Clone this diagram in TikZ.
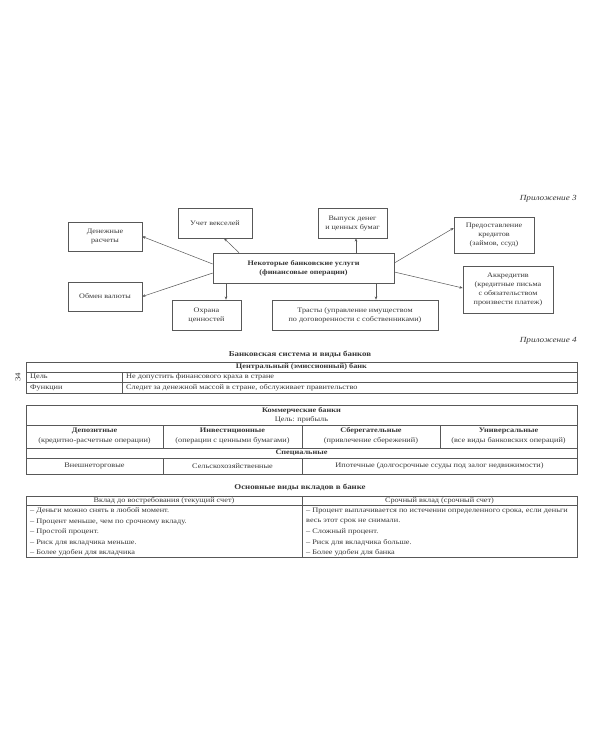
\documentclass[tikz,border=0pt]{standalone}
\usepackage{fontspec}
\setmainfont[FakeStretch=1.18]{Liberation Serif}
\usetikzlibrary{arrows.meta}
\definecolor{ink}{HTML}{383838}
\definecolor{rule}{HTML}{585858}
\tikzset{
  box/.style={draw=rule, line width=0.6pt, align=center, inner sep=1pt, text=ink, font=\fontsize{6.9}{9}\selectfont},
  arr/.style={draw=rule, line width=0.5pt, -{Stealth[length=3.2pt,width=2.6pt]}},
  tline/.style={draw=rule, line width=0.5pt},
  ttext/.style={text=ink, inner sep=0pt, font=\fontsize{7}{9}\selectfont},
  tbold/.style={ttext, font=\fontsize{7}{9}\selectfont\bfseries},
  ttitle/.style={text=ink, inner sep=0pt, font=\fontsize{7.5}{9}\selectfont\bfseries},
  appx/.style={text=ink, inner sep=0pt, anchor=east, font=\fontsize{7.8}{9}\selectfont\itshape}
}
\begin{document}
\begin{tikzpicture}[x=1pt,y=-1pt]
\useasboundingbox[fill=white] (0,0) rectangle (600,750);

\node[appx] (ap3) at (577,199) {Приложение 3};

% boxes
\node[box, minimum width=74pt, minimum height=29pt] (den) at (105,236.5) {Денежные\\расчеты};
\node[box, minimum width=74pt, minimum height=30pt] (uch) at (215,223) {Учет векселей};
\node[box, minimum width=74pt, minimum height=29pt] (obm) at (105,296.5) {Обмен валюты};
\node[box, minimum width=181pt, minimum height=30pt, font=\fontsize{6.9}{9}\selectfont\bfseries] (cen) at (303.5,268) {Некоторые банковские услуги\\(финансовые операции)};
\node[box, minimum width=69pt, minimum height=30pt] (ohr) at (206.5,315) {Охрана\\ценностей};
\node[box, minimum width=166pt, minimum height=30pt] (tra) at (355,315) {Трасты (управление имуществом\\по договоренности с собственниками)};
\node[box, minimum width=69pt, minimum height=30pt] (vyp) at (352.5,223) {Выпуск денег\\и ценных бумаг};
\node[box, minimum width=80pt, minimum height=36pt] (pre) at (494,235) {Предоставление\\кредитов\\(займов, ссуд)};
\node[box, minimum width=90pt, minimum height=47pt] (akk) at (508,289.5) {Аккредитив\\(кредитные письма\\с обязательством\\произвести платеж)};

% arrows
\draw[arr] ([yshift=4pt]cen.west) -- (den.east);
\draw[arr] ([yshift=-5pt]cen.west) -- (obm.east);
\draw[arr] ([xshift=-64.5pt]cen.north) -- ([xshift=9pt]uch.south);
\draw[arr] ([xshift=-77.5pt]cen.south) -- ([xshift=-77.5pt]cen.south |- ohr.north);
\draw[arr] ([xshift=52.5pt]cen.north) -- ([xshift=52.5pt]cen.north |- vyp.south);
\draw[arr] ([xshift=72.5pt]cen.south) -- ([xshift=72.5pt]cen.south |- tra.north);
\draw[arr] ([yshift=5pt]cen.east) -- ([yshift=7pt]pre.west);
\draw[arr] ([yshift=-4pt]cen.east) -- ([yshift=1.5pt]akk.west);

\node[appx] (ap4) at (577,341) {Приложение 4};
\node[text=ink, rotate=90, inner sep=0pt, font=\fontsize{7.5}{9}\selectfont] (pg) at (18,377) {34};

% table 1
\node[ttitle] (t1title) at (300,354) {Банковская система и виды банков};
\draw[tline] (26,362) rectangle (577,393);
\draw[tline] (26,372) -- (577,372);
\draw[tline] (26,382) -- (577,382);
\draw[tline] (122,372) -- (122,393);
\node[tbold] (t1h) at (301.5,367) {Центральный (эмиссионный) банк};
\node[ttext, anchor=west] (t1a) at (30,377) {Цель};
\node[ttext, anchor=west] (t1b) at (126,377) {Не допустить финансового краха в стране};
\node[ttext, anchor=west] (t1c) at (30,387.5) {Функции};
\node[ttext, anchor=west] (t1d) at (126,387.5) {Следит за денежной массой в стране, обслуживает правительство};

% table 2
\draw[tline] (26,405) rectangle (577,474);
\draw[tline] (26,425) -- (577,425);
\draw[tline] (26,448) -- (577,448);
\draw[tline] (26,458) -- (577,458);
\draw[tline] (163,425) -- (163,448);
\draw[tline] (302,425) -- (302,448);
\draw[tline] (440,425) -- (440,448);
\draw[tline] (163,458) -- (163,474);
\draw[tline] (302,458) -- (302,474);
\node[tbold] (t2h) at (301.5,410.5) {Коммерческие банки};
\node[ttext] (t2g) at (301.5,419.5) {Цель: прибыль};
\node[tbold] (c1a) at (94.5,431) {Депозитные};
\node[ttext] (c1b) at (94.5,441) {(кредитно-расчетные операции)};
\node[tbold] (c2a) at (232.5,431) {Инвестиционные};
\node[ttext] (c2b) at (232.5,441) {(операции с ценными бумагами)};
\node[tbold] (c3a) at (371,431) {Сберегательные};
\node[ttext] (c3b) at (371,441) {(привлечение сбережений)};
\node[tbold] (c4a) at (508.5,431) {Универсальные};
\node[ttext] (c4b) at (508.5,441) {(все виды банковских операций)};
\node[tbold] (t2s) at (301.5,453) {Специальные};
\node[ttext] (s1) at (94.5,466) {Внешнеторговые};
\node[ttext] (s2) at (232.5,466) {Сельскохозяйственные};
\node[ttext] (s3) at (439.5,466) {Ипотечные (долгосрочные ссуды под залог недвижимости)};

% table 3
\node[ttitle] (t3title) at (300,487) {Основные виды вкладов в банке};
\draw[tline] (26,496) rectangle (577,557);
\draw[tline] (26,505) -- (577,505);
\draw[tline] (302,496) -- (302,557);
\node[ttext] (h1) at (164,500.5) {Вклад до востребования (текущий счет)};
\node[ttext] (h2) at (439.5,500.5) {Срочный вклад (срочный счет)};
\node[ttext, anchor=west] (l1) at (30,511) {– Деньги можно снять в любой момент.};
\node[ttext, anchor=west] (l2) at (30,521.5) {– Процент меньше, чем по срочному вкладу.};
\node[ttext, anchor=west] (l3) at (30,532) {– Простой процент.};
\node[ttext, anchor=west] (l4) at (30,542.5) {– Риск для вкладчика меньше.};
\node[ttext, anchor=west] (l5) at (30,553) {– Более удобен для вкладчика};
\node[ttext, anchor=west] (r1) at (306,511) {– Процент выплачивается по истечении определенного срока, если деньги};
\node[ttext, anchor=west] (r2) at (306,521.5) {весь этот срок не снимали.};
\node[ttext, anchor=west] (r3) at (306,532) {– Сложный процент.};
\node[ttext, anchor=west] (r4) at (306,542.5) {– Риск для вкладчика больше.};
\node[ttext, anchor=west] (r5) at (306,553) {– Более удобен для банка};
\end{tikzpicture}
\end{document}
